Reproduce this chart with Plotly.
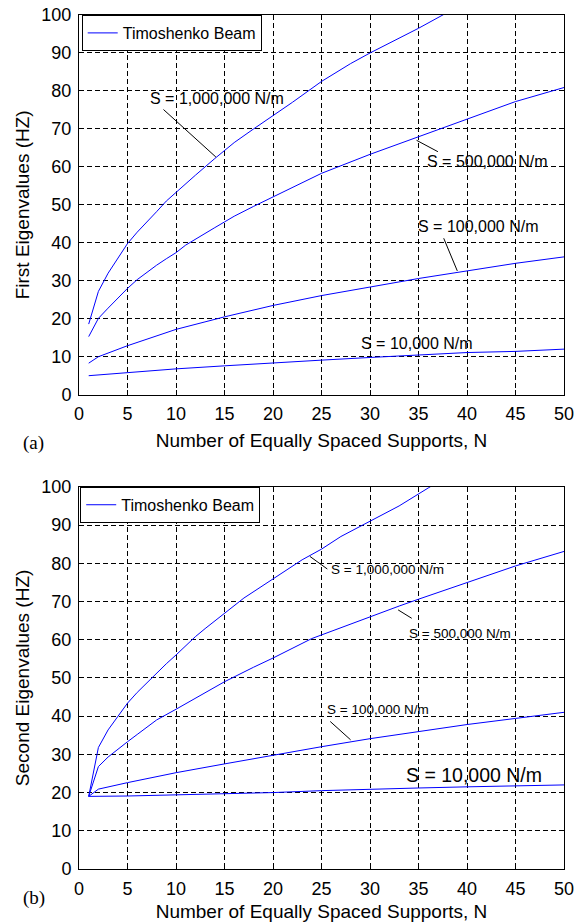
import plotly.graph_objects as go

# ---------------- data ----------------
# (a) First eigenvalues (Hz) vs number of equally spaced supports N
N_a_1M = [1, 2, 3, 4, 5, 6, 7, 8, 9, 10, 12, 14, 15, 16, 18, 20, 22, 25, 28, 30, 33, 35, 38]
F1_1M = [18.6, 27.2, 32.0, 35.9, 39.8, 42.8, 45.4, 48.2, 51.0, 53.3, 57.8, 62.2, 64.4, 66.4,
         70.0, 73.4, 77.0, 82.5, 87.2, 90.0, 93.9, 96.5, 100.7]

N_a_500k = [1, 2, 3, 4, 5, 6, 7, 8, 9, 10, 11, 12, 14, 15, 16, 18, 20, 25, 30, 35, 40, 45, 50]
F1_500k = [15.3, 20.1, 22.8, 25.5, 28.0, 30.3, 32.3, 34.1, 35.8, 37.4, 39.4, 41.0, 44.0, 45.5,
           47.0, 49.6, 52.1, 58.3, 63.3, 67.9, 72.4, 77.2, 80.9]

N_a_100k = [1, 2, 5, 10, 15, 20, 25, 30, 35, 40, 45, 50]
F1_100k = [8.3, 10.0, 12.9, 17.2, 20.5, 23.5, 26.1, 28.4, 30.6, 32.6, 34.6, 36.3]

N_a_10k = [1, 2, 5, 10, 15, 20, 25, 30, 35, 40, 45, 50]
F1_10k = [5.0, 5.2, 5.8, 6.8, 7.6, 8.4, 9.1, 9.8, 10.4, 11.1, 11.4, 12.0]

# (b) Second eigenvalues (Hz)
N_b_1M = [1, 2, 3, 4, 5, 6, 7, 8, 9, 10, 12, 13, 15, 17, 20, 23, 25, 27, 30, 33, 36, 37]
F2_1M = [19.0, 31.8, 36.4, 40.0, 43.4, 46.2, 48.7, 51.3, 53.7, 56.0, 60.8, 62.9, 67.0, 70.9,
         75.9, 80.9, 83.7, 87.0, 91.0, 95.0, 99.7, 101.2]

N_b_500k = [1, 2, 3, 4, 5, 6, 8, 10, 13, 15, 18, 20, 24, 30, 33, 35, 40, 45, 50]
F2_500k = [19.0, 26.8, 29.3, 31.4, 33.3, 35.2, 39.0, 41.8, 46.0, 49.0, 52.8, 55.2, 60.3, 66.1,
           68.8, 70.6, 75.0, 79.3, 83.1]

N_b_100k = [1, 2, 5, 10, 15, 20, 25, 30, 35, 40, 45, 50]
F2_100k = [19.0, 20.9, 22.6, 25.2, 27.5, 29.8, 32.0, 34.1, 36.0, 37.8, 39.4, 41.0]

N_b_10k = [1, 2, 5, 10, 15, 20, 25, 30, 35, 40, 45, 50]
F2_10k = [19.0, 19.0, 19.1, 19.4, 19.7, 20.0, 20.5, 20.9, 21.2, 21.5, 21.8, 22.0]

x_ticks = [0, 5, 10, 15, 20, 25, 30, 35, 40, 45, 50]
y_ticks = [0, 10, 20, 30, 40, 50, 60, 70, 80, 90, 100]

legend_name = "Timoshenko Beam"
x_title = "Number of Equally Spaced Supports, N"
y_title_a = "First Eigenvalues (HZ)"
y_title_b = "Second Eigenvalues (HZ)"

# Curve labels: text, label position (N, Hz), leader line (N0, Hz0, N1, Hz1) or None, font size
labels_a = [
    ("S = 1,000,000 N/m", 14.2, 78.0, (8.71, 75.1, 14.11, 62.6), 16),
    ("S = 500,000 N/m", 42.1, 61.3, (34.8, 67.0, 37.0, 64.0), 16),
    ("S = 100,000 N/m", 41.2, 44.2, (37.6, 41.2, 39.0, 32.6), 16),
    ("S = 10,000 N/m", 34.8, 13.5, None, 16),
]
labels_b = [
    ("S = 1,000,000 N/m", 31.8, 78.3, (23.8, 81.8, 25.6, 78.5), 13.5),
    ("S = 500,000 N/m", 39.3, 61.7, (32.9, 67.8, 34.3, 65.6), 13.5),
    ("S = 100,000 N/m", 30.8, 41.8, (25.9, 38.6, 28.0, 33.8), 13.5),
    ("S = 10,000 N/m", 40.7, 24.6, None, 19.5),
]

# ---------------- figure ----------------
BLUE = "#0000ff"
SANS = "Liberation Sans, Arial, Helvetica, sans-serif"
SERIF = "Liberation Serif, Times New Roman, serif"

fig = go.Figure()

series_a = [(N_a_1M, F1_1M), (N_a_500k, F1_500k), (N_a_100k, F1_100k), (N_a_10k, F1_10k)]
series_b = [(N_b_1M, F2_1M), (N_b_500k, F2_500k), (N_b_100k, F2_100k), (N_b_10k, F2_10k)]

for i, (xs, ys) in enumerate(series_a):
    fig.add_trace(go.Scatter(x=xs, y=ys, mode="lines", line=dict(color=BLUE, width=1),
                             name=legend_name, showlegend=(i == 0), legend="legend",
                             xaxis="x", yaxis="y"))
for i, (xs, ys) in enumerate(series_b):
    fig.add_trace(go.Scatter(x=xs, y=ys, mode="lines", line=dict(color=BLUE, width=1),
                             name=legend_name, showlegend=(i == 0), legend="legend2",
                             xaxis="x2", yaxis="y2"))

common = dict(showline=True, linecolor="black", linewidth=1, mirror="ticks",
              ticks="inside", ticklen=5, tickcolor="black", tickwidth=1,
              showgrid=True, gridcolor="black", gridwidth=0.8, griddash="5px,3px",
              zeroline=False, automargin=False, ticklabeloverflow="allow",
              tickfont=dict(size=18, family=SANS, color="black"))

xcommon = dict(common, range=[0, 50], tickmode="array", tickvals=x_ticks,
               ticklabelstandoff=3,
               title=dict(text=x_title, font=dict(size=19, family=SANS), standoff=10))
ycommon = dict(common, range=[0, 100], tickmode="array", tickvals=y_ticks,
               ticklabelstandoff=3)

fig.update_layout(
    width=574, height=922,
    margin=dict(l=79, r=10, t=15, b=53, autoexpand=False),
    paper_bgcolor="white", plot_bgcolor="white",
    font=dict(family=SANS, color="black"),
    xaxis=dict(xcommon, domain=[0, 1], anchor="y"),
    yaxis=dict(ycommon, domain=[0.5554, 1], anchor="x",
               title=dict(text=y_title_a, font=dict(size=19, family=SANS), standoff=6)),
    xaxis2=dict(xcommon, domain=[0, 1], anchor="y2"),
    yaxis2=dict(ycommon, domain=[0, 0.4475], anchor="x2",
                title=dict(text=y_title_b, font=dict(size=19, family=SANS), standoff=6)),
    legend=dict(x=0.0056, y=1.0, xanchor="left", yanchor="top",
                bordercolor="black", borderwidth=1, bgcolor="white",
                font=dict(size=16, family=SANS), itemwidth=30, tracegroupgap=0),
    legend2=dict(x=0.0025, y=0.4475, xanchor="left", yanchor="top",
                 bordercolor="black", borderwidth=1, bgcolor="white",
                 font=dict(size=16, family=SANS), itemwidth=30, tracegroupgap=0),
)

annotations = []
shapes = []
for labels, xr, yr in ((labels_a, "x", "y"), (labels_b, "x2", "y2")):
    for text, lx, ly, seg, fs in labels:
        annotations.append(dict(text=text, x=lx, y=ly, xref=xr, yref=yr, showarrow=False,
                                font=dict(size=fs, family=SANS, color="black")))
        if seg is not None:
            shapes.append(dict(type="line", xref=xr, yref=yr, x0=seg[0], y0=seg[1],
                               x1=seg[2], y1=seg[3], line=dict(color="black", width=1)))

annotations.append(dict(text="(a)", x=-0.1206, y=0.4988, xref="paper", yref="paper",
                        showarrow=False, font=dict(size=19, family=SERIF, color="black")))
annotations.append(dict(text="(b)", x=-0.1206, y=-0.0488, xref="paper", yref="paper",
                        showarrow=False, font=dict(size=19, family=SERIF, color="black")))

fig.update_layout(annotations=annotations, shapes=shapes)

# remove the browser's default 8px page margin so the 574x922 figure fills the window
fig.write_html("out.html", config={"displayModeBar": False},
               post_script="document.body.style.margin='0';document.body.style.overflow='hidden';")
